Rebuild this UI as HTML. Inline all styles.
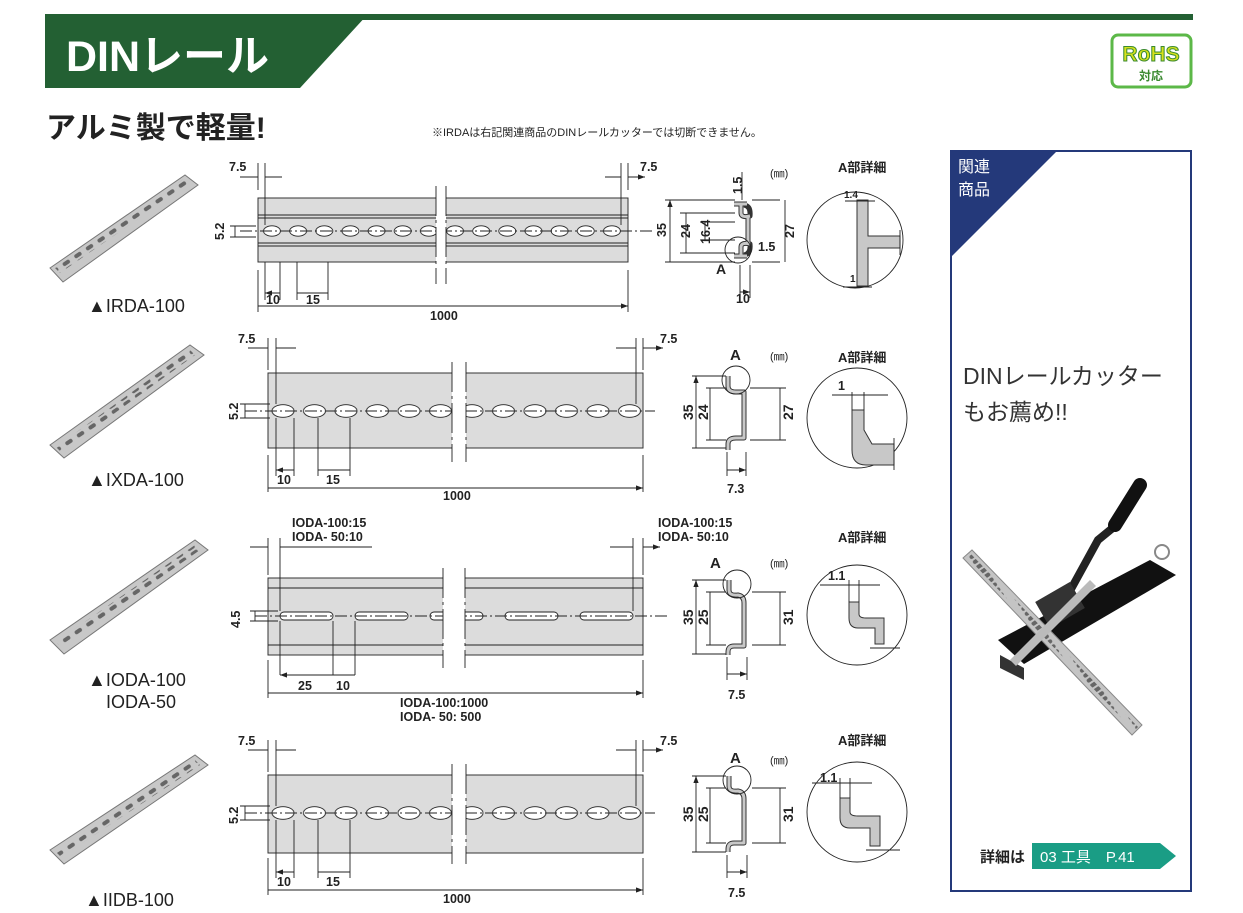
<!DOCTYPE html>
<html><head><meta charset="utf-8"><style>
html,body{margin:0;padding:0;background:#fff}
svg{display:block}
text{font-family:"Liberation Sans","Noto Sans CJK JP",sans-serif;fill:#222}
.d{font-size:12.5px;font-weight:bold}
.l{stroke:#222;stroke-width:0.9;fill:none}
.c{stroke:#222;stroke-width:0.9;fill:none;stroke-dasharray:12 3 2 3}
.rail{fill:#dcdcdc;stroke:#333;stroke-width:1}
.prof{fill:none;stroke:#333;stroke-width:5;stroke-linejoin:round}
.prof2{fill:none;stroke:#c8c8c8;stroke-width:3;stroke-linejoin:round}
</style></head><body>
<svg width="1243" height="913" viewBox="0 0 1243 913" xmlns="http://www.w3.org/2000/svg">
<defs>
<marker id="a" markerWidth="8" markerHeight="6" refX="8" refY="3" orient="auto-start-reverse"><path d="M0,0 L8,3 L0,6z" fill="#222"/></marker>
<pattern id="p1" patternUnits="userSpaceOnUse" x="258.9" y="225" width="26.15" height="12"><ellipse cx="13.07" cy="6" rx="8.5" ry="5.2" fill="#fff" stroke="#222" stroke-width="0.9"/></pattern>
<pattern id="p2" patternUnits="userSpaceOnUse" x="267.25" y="404" width="31.5" height="14"><ellipse cx="15.75" cy="7" rx="11" ry="6.3" fill="#fff" stroke="#222" stroke-width="0.9"/></pattern>
<pattern id="p4" patternUnits="userSpaceOnUse" x="267.25" y="806" width="31.5" height="14"><ellipse cx="15.75" cy="7" rx="11" ry="6.3" fill="#fff" stroke="#222" stroke-width="0.9"/></pattern>
<pattern id="p3" patternUnits="userSpaceOnUse" x="268" y="611" width="75" height="10"><rect x="12" y="1" width="53" height="8" rx="4" fill="#fff" stroke="#222" stroke-width="0.9"/></pattern>
<pattern id="ps" patternUnits="userSpaceOnUse" width="14" height="6" patternTransform="rotate(-34)"><rect x="2" y="1" width="8" height="4" rx="2" fill="#666"/></pattern>
</defs>

<!-- header -->
<rect x="45" y="14" width="1148" height="6" fill="#236033"/>
<polygon points="45,14 368,14 300,88 45,88" fill="#236033"/>
<text x="66" y="71" style="font-size:43px;font-weight:bold;fill:#fff">DINレール</text>
<text x="46" y="138" style="font-size:30px;font-weight:bold;fill:#222">アルミ製で軽量!</text>
<text x="432" y="136" style="font-size:11px">※IRDAは右記関連商品のDINレールカッターでは切断できません。</text>
<!-- RoHS -->
<rect x="1112" y="35" width="79" height="52" rx="6" fill="#fff" stroke="#5cb848" stroke-width="3"/>
<text x="1151" y="61" text-anchor="middle" style="font-size:21px;font-weight:bold;fill:#d7e21c;stroke:#3a8a30;stroke-width:1">RoHS</text>
<text x="1151" y="80" text-anchor="middle" style="font-size:12px;font-weight:bold;fill:#3a8a30">対応</text>

<!-- product photos -->
<g>
<polygon points="50,268 185,175 198,185 63,282" fill="#c8c8c8" stroke="#777"/>
<polygon points="55,268 185,178 190,183 60,273" fill="url(#ps)"/>
<polygon points="50,445 190,345 204,355 64,458" fill="#c8c8c8" stroke="#777"/>
<polygon points="56,447 190,350 195,355 61,452" fill="url(#ps)"/>
<polygon points="50,640 195,540 208,550 64,654" fill="#c8c8c8" stroke="#777"/>
<polygon points="56,642 195,545 200,550 61,647" fill="url(#ps)"/>
<polygon points="50,850 195,755 208,765 64,864" fill="#c8c8c8" stroke="#777"/>
<polygon points="56,852 195,760 200,765 61,857" fill="url(#ps)"/>
</g>
<text x="88" y="312" style="font-size:18px">▲IRDA-100</text>
<text x="88" y="486" style="font-size:18px">▲IXDA-100</text>
<text x="88" y="686" style="font-size:18px">▲IODA-100</text>
<text x="106" y="708" style="font-size:18px">IODA-50</text>
<text x="85" y="906" style="font-size:18px">▲IIDB-100</text>

<!-- ROW 1 -->
<rect class="rail" x="258" y="198" width="370" height="64"/>
<path class="l" d="M258 215H628M258 218H628M258 243H628M258 246H628"/>
<rect x="258.9" y="225" width="366" height="12" fill="url(#p1)"/>
<line class="c" x1="240" y1="231" x2="655" y2="231"/>
<rect x="436" y="192" width="10" height="76" fill="#fff"/>
<path class="l" d="M436 186V284M446 186V284" stroke-dasharray="30 4 3 4"/>
<path class="l" d="M258 163V190M265 163V225M621 163V225M628 163V190"/>
<path class="l" d="M240 177H258M265 177H282M605 177H621M628 177H645" marker-end="url(#a)"/>
<text class="d" x="229" y="171">7.5</text><text class="d" x="640" y="171">7.5</text>
<path class="l" d="M230 226H256M230 237H256M235 226V237"/>
<text class="d" transform="translate(224,240) rotate(-90)">5.2</text>
<path class="l" d="M265 262V300M280 262V300M297 262V300M328 262V300M258 270V312M628 270V312"/>
<path class="l" d="M265 293H280M297 293H328M258 306H628" marker-end="url(#a)" marker-start="url(#a)"/>
<text class="d" x="266" y="304">10</text><text class="d" x="306" y="304">15</text><text class="d" x="430" y="320">1000</text>
<!-- profile 1 -->
<path class="prof" d="M734 204H747M741 204V213Q741 218 750 216Q751 206 744 205M734 256H747M741 256V247Q741 242 750 244Q751 254 744 255M748 216V244"/>
<path class="prof2" d="M734 204H747M741 204V213Q741 218 750 216M734 256H747M741 256V247Q741 242 750 244M748 216V244"/>
<circle cx="738" cy="250" r="13" class="l"/>
<path class="l" d="M665 200H735M665 262H735M680 213H735M680 253H735M700 222H735M700 240H735M752 200H780M752 262H780M740 265V298M750 265V298"/>
<path class="l" d="M670 200V262M686 213V253M705 222V240M785 200V262M740 292H750" marker-end="url(#a)" marker-start="url(#a)"/>
<path class="l" d="M742 172V200"/>
<text class="d" transform="translate(666,237) rotate(-90)">35</text>
<text class="d" transform="translate(690,238) rotate(-90)">24</text>
<text class="d" transform="translate(710,244) rotate(-90)">16.4</text>
<text class="d" transform="translate(794,238) rotate(-90)">27</text>
<text class="d" transform="translate(742,194) rotate(-90)">1.5</text>
<text x="770" y="177" style="font-size:11px">(㎜)</text>
<text class="d" x="758" y="251">1.5</text>
<text class="d" x="716" y="274" style="font-size:14px">A</text>
<text class="d" x="736" y="303">10</text>
<text x="838" y="172" style="font-size:13px;font-weight:bold">A部詳細</text>
<circle cx="855" cy="240" r="48" class="l"/>
<path d="M857 200H868V236H900V248H868V286H857Z" fill="#c8c8c8" stroke="#333"/>
<path class="l" d="M845 201H875M900 230V255"/>
<text class="d" x="844" y="198" style="font-size:10px">1.4</text>
<text class="d" x="850" y="282" style="font-size:10px">1</text>
<path class="l" d="M843 287H872"/>

<!-- ROW 2 -->
<rect class="rail" x="268" y="373" width="375" height="75"/>
<rect x="267.25" y="404" width="378" height="14" fill="url(#p2)"/>
<line class="c" x1="245" y1="411" x2="655" y2="411"/>
<rect x="452" y="368" width="14" height="86" fill="#fff"/>
<path class="l" d="M452 362V462M466 362V462" stroke-dasharray="30 4 3 4"/>
<path class="l" d="M268 338V370M276 338V404M636 338V404M643 338V370"/>
<path class="l" d="M248 348H268M276 348H296M616 348H636M643 348H663" marker-end="url(#a)"/>
<text class="d" x="238" y="343">7.5</text><text class="d" x="660" y="343">7.5</text>
<path class="l" d="M240 404H270M240 418H270M245 404V418"/>
<text class="d" transform="translate(238,420) rotate(-90)">5.2</text>
<path class="l" d="M276 418V476M294 418V476M318 418V476M350 418V476M268 455V492M643 455V492"/>
<path class="l" d="M276 470H294M318 470H350M268 488H643" marker-end="url(#a)" marker-start="url(#a)"/>
<text class="d" x="277" y="484">10</text><text class="d" x="326" y="484">15</text><text class="d" x="443" y="500">1000</text>
<path class="prof" d="M728 376V386Q728 392 736 392H744V438H736Q728 438 728 444V450"/>
<path class="prof2" d="M728 376V386Q728 392 736 392H744V438H736Q728 438 728 444V450"/>
<circle cx="736" cy="380" r="14" class="l"/>
<path class="l" d="M692 376H726M692 448H726M706 388H726M706 440H726M750 388H786M750 440H786M727 452V476M746 452V476"/>
<path class="l" d="M696 376V448M710 388V440M780 388V440M727 470H746" marker-end="url(#a)" marker-start="url(#a)"/>
<text class="d" transform="translate(693,420) rotate(-90)" style="font-size:14px">35</text>
<text class="d" transform="translate(708,420) rotate(-90)" style="font-size:14px">24</text>
<text class="d" transform="translate(793,420) rotate(-90)" style="font-size:14px">27</text>
<text class="d" x="730" y="360" style="font-size:15px">A</text>
<text x="770" y="360" style="font-size:11px">(㎜)</text>
<text class="d" x="727" y="493">7.3</text>
<text x="838" y="362" style="font-size:13px;font-weight:bold">A部詳細</text>
<circle cx="857" cy="418" r="50" class="l"/>
<path d="M852 410H864V430L872 444H894V465H866Q852 465 852 450Z" fill="#c8c8c8" stroke="#333"/>
<path class="l" d="M832 395H888M852 392V410M864 392V410M894 438V470"/>
<text class="d" x="838" y="390">1</text>

<!-- ROW 3 -->
<rect class="rail" x="268" y="578" width="375" height="77"/>
<path class="l" d="M268 588H643M268 645H643"/>
<rect x="268" y="611" width="375" height="10" fill="url(#p3)"/>
<line class="c" x1="255" y1="616" x2="668" y2="616"/>
<rect x="443" y="572" width="22" height="90" fill="#fff"/>
<path class="l" d="M443 568V668M465 568V668" stroke-dasharray="30 4 3 4"/>
<text class="d" x="292" y="527">IODA-100:15</text><text class="d" x="292" y="541">IODA- 50:10</text>
<text class="d" x="658" y="527">IODA-100:15</text><text class="d" x="658" y="541">IODA- 50:10</text>
<path class="l" d="M268 538V575M280 538V611M633 538V611M643 538V575"/>
<path class="l" d="M250 547H268M280 547H372M610 547H633M643 547H660" marker-end="url(#a)"/>
<path class="l" d="M250 611H278M250 621H278M255 611V621"/>
<text class="d" transform="translate(240,628) rotate(-90)">4.5</text>
<path class="l" d="M280 621V675M333 621V675M355 621V675M268 660V698M643 660V698"/>
<path class="l" d="M280 675H333M333 675H355M268 693H643" marker-end="url(#a)" marker-start="url(#a)"/>
<text class="d" x="298" y="690">25</text><text class="d" x="336" y="690">10</text>
<text class="d" x="400" y="707">IODA-100:1000</text><text class="d" x="400" y="721">IODA- 50:  500</text>
<path class="prof" d="M729 580V590Q729 596 738 595Q744 596 744 603V646H734Q728 646 728 652V655"/>
<path class="prof2" d="M729 580V590Q729 596 738 595Q744 596 744 603V646H734Q728 646 728 652V655"/>
<circle cx="737" cy="584" r="14" class="l"/>
<path class="l" d="M692 580H726M692 654H726M706 592H726M706 645H726M752 592H786M752 645H786M727 657V680M747 657V680"/>
<path class="l" d="M696 580V654M710 592V645M780 592V645M727 674H747" marker-end="url(#a)" marker-start="url(#a)"/>
<text class="d" transform="translate(693,625) rotate(-90)" style="font-size:14px">35</text>
<text class="d" transform="translate(708,625) rotate(-90)" style="font-size:14px">25</text>
<text class="d" transform="translate(793,625) rotate(-90)" style="font-size:14px">31</text>
<text class="d" x="710" y="568" style="font-size:15px">A</text>
<text x="770" y="567" style="font-size:11px">(㎜)</text>
<text class="d" x="728" y="699">7.5</text>
<text x="838" y="542" style="font-size:13px;font-weight:bold">A部詳細</text>
<circle cx="857" cy="615" r="50" class="l"/>
<path d="M849 602H859V614Q859 618 866 618H884V644H875V628H858Q849 628 849 618Z" fill="#c8c8c8" stroke="#333"/>
<path class="l" d="M820 585H880M849 580V602M859 580V602M870 648H900"/>
<text class="d" x="828" y="580">1.1</text>

<!-- ROW 4 -->
<rect class="rail" x="268" y="775" width="375" height="78"/>
<rect x="267.25" y="806" width="378" height="14" fill="url(#p4)"/>
<line class="c" x1="245" y1="813" x2="655" y2="813"/>
<rect x="452" y="770" width="14" height="88" fill="#fff"/>
<path class="l" d="M452 764V864M466 764V864" stroke-dasharray="30 4 3 4"/>
<path class="l" d="M268 740V772M276 740V806M636 740V806M643 740V772"/>
<path class="l" d="M248 750H268M276 750H296M616 750H636M643 750H663" marker-end="url(#a)"/>
<text class="d" x="238" y="745">7.5</text><text class="d" x="660" y="745">7.5</text>
<path class="l" d="M240 806H270M240 820H270M245 806V820"/>
<text class="d" transform="translate(238,824) rotate(-90)">5.2</text>
<path class="l" d="M276 820V878M294 820V878M318 820V878M350 820V878M268 858V895M643 858V895"/>
<path class="l" d="M276 872H294M318 872H350M268 890H643" marker-end="url(#a)" marker-start="url(#a)"/>
<text class="d" x="277" y="886">10</text><text class="d" x="326" y="886">15</text><text class="d" x="443" y="903">1000</text>
<path class="prof" d="M729 776V786Q729 792 738 791Q744 792 744 799V843H734Q728 843 728 849V852"/>
<path class="prof2" d="M729 776V786Q729 792 738 791Q744 792 744 799V843H734Q728 843 728 849V852"/>
<circle cx="737" cy="780" r="14" class="l"/>
<path class="l" d="M692 776H726M692 852H726M706 788H726M706 843H726M752 788H786M752 843H786M727 855V878M747 855V878"/>
<path class="l" d="M696 776V852M710 788V843M780 788V843M727 872H747" marker-end="url(#a)" marker-start="url(#a)"/>
<text class="d" transform="translate(693,822) rotate(-90)" style="font-size:14px">35</text>
<text class="d" transform="translate(708,822) rotate(-90)" style="font-size:14px">25</text>
<text class="d" transform="translate(793,822) rotate(-90)" style="font-size:14px">31</text>
<text class="d" x="730" y="763" style="font-size:15px">A</text>
<text x="770" y="764" style="font-size:11px">(㎜)</text>
<text class="d" x="728" y="897">7.5</text>
<text x="838" y="745" style="font-size:13px;font-weight:bold">A部詳細</text>
<circle cx="857" cy="812" r="50" class="l"/>
<path d="M840 798H850V812Q850 816 858 816H880V846H870V828H850Q840 828 840 818Z" fill="#c8c8c8" stroke="#333"/>
<path class="l" d="M812 783H872M840 778V798M850 778V798M866 850H900"/>
<text class="d" x="820" y="782">1.1</text>

<!-- right panel -->
<rect x="951" y="151" width="240" height="740" fill="#fff" stroke="#24397a" stroke-width="2"/>
<polygon points="950,150 1058,150 950,258" fill="#24397a"/>
<text x="958" y="172" style="font-size:16px;fill:#fff">関連</text>
<text x="958" y="195" style="font-size:16px;fill:#fff">商品</text>
<text x="963" y="384" style="font-size:23px;fill:#333">DINレールカッター</text>
<text x="963" y="420" style="font-size:23px;fill:#333">もお薦め!!</text>
<!-- cutter -->
<polygon points="998,640 1150,560 1176,575 1024,664" fill="#111"/>
<polygon points="1000,655 1024,668 1024,680 1000,668" fill="#333"/>
<path d="M1065 600 L1098 540 L1120 522" stroke="#222" stroke-width="8" fill="none"/>
<path d="M1115 525 L1140 485" stroke="#111" stroke-width="14" stroke-linecap="round"/>
<rect x="1040" y="590" width="40" height="30" fill="#333" transform="rotate(-30 1060 605)"/>
<circle cx="1162" cy="552" r="7" fill="none" stroke="#888" stroke-width="2"/>
<polygon points="963,558 972,550 1142,725 1132,735" fill="#c4c4c4" stroke="#888"/>
<polygon points="967,557 970,553 1138,727 1134,731" fill="url(#ps)"/>
<polygon points="1010,660 1090,580 1096,586 1016,666" fill="#bbb"/>
<!-- detail tag -->
<text x="980" y="862" style="font-size:15px;font-weight:bold">詳細は</text>
<polygon points="1032,843 1160,843 1176,856 1160,869 1032,869" fill="#1a9d85"/>
<text x="1040" y="862" style="font-size:15px;fill:#fff">03 工具　P.41</text>
</svg>
</body></html>
